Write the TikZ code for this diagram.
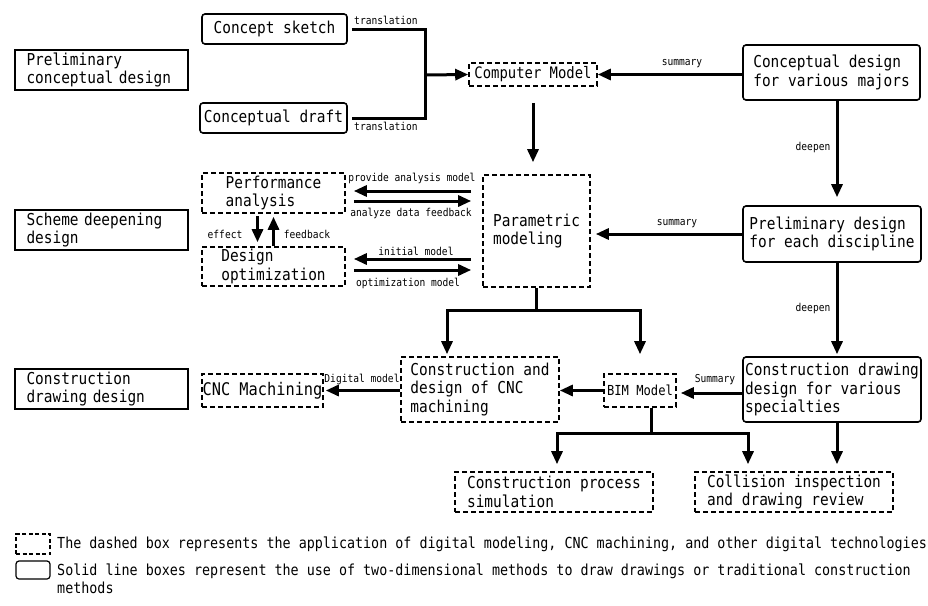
\documentclass[tikz,border=0pt]{standalone}
\usepackage{fontspec}
\setmainfont{DejaVu Sans Mono}[FakeStretch=0.88]
\usetikzlibrary{arrows.meta}

\tikzset{
  x=1pt, y=-1pt,
  every node/.style={inner sep=0pt},
  box/.style={draw, line width=1.6pt, align=left, font=\fontsize{16.4}{18.5}\selectfont},
  solidbox/.style={box, rounded corners=3pt},
  labbox/.style={box, line width=2pt, text width=150pt, inner xsep=11.5pt,
                 minimum width=173pt, minimum height=40pt},
  dashbox/.style={box, dash pattern=on 5pt off 3pt},
  arr/.style={line width=3pt, -{Triangle[length=13pt,width=11pt]}},
  link/.style={line width=3pt},
  tag/.style={font=\fontsize{10.9}{12}\selectfont},
}

\begin{document}
\begin{tikzpicture}
\fill[white] (0,0) rectangle (928,605);
\useasboundingbox (0,0) rectangle (928,605);

% stage labels on the left
\node[labbox] (lab1) at (101.5,70)  {Preliminary\\conceptual design};
\node[labbox] (lab2) at (101.5,230) {Scheme deepening\\design};
\node[labbox] (lab3) at (101.5,389) {Construction\\drawing design};

% first stage
\node[solidbox, minimum width=145pt, minimum height=30pt] (sketch) at (274.5,29) {Concept sketch};
\node[solidbox, minimum width=147pt, minimum height=30pt] (draft) at (273.5,118) {Conceptual draft};
\node[dashbox, minimum width=128pt, minimum height=23pt, font=\fontsize{15.8}{18}\selectfont] (cm) at (533,74.5) {Computer Model};
\node[solidbox, minimum width=177pt, minimum height=55pt] (cdm) at (831.5,72.5) {Conceptual design\\for various majors};

% second stage
\node[dashbox, minimum width=107pt, minimum height=112pt] (pm) at (536.5,231) {Parametric\\modeling};
\node[solidbox, minimum width=178pt, minimum height=56pt] (pdd) at (832,234) {Preliminary design\\for each discipline};
\node[dashbox, minimum width=143pt, minimum height=40pt] (pa) at (273.5,193) {Performance\\analysis};
\node[dashbox, minimum width=143pt, minimum height=39pt] (dopt) at (273.5,266.5) {Design\\optimization};

% third stage
\node[dashbox, minimum width=158pt, minimum height=65pt] (cdcnc) at (480,389.5) {Construction and\\design of CNC\\machining};
\node[dashbox, minimum width=72pt, minimum height=33pt, font=\fontsize{13.8}{16}\selectfont] (bim) at (640,390.5) {BIM Model};
\node[solidbox, minimum width=178pt, minimum height=65pt] (cdd) at (832,389.5) {Construction drawing\\design for various\\specialties};
\node[dashbox, minimum width=121pt, minimum height=33pt, font=\fontsize{17.4}{19}\selectfont] (cnc) at (262.5,390.5) {CNC Machining};
\node[dashbox, minimum width=198pt, minimum height=40pt] (cps) at (554,492) {Construction process\\simulation};
\node[dashbox, minimum width=198pt, minimum height=40pt] (col) at (794,492) {Collision inspection\\and drawing review};

% legend
\node[box, dash pattern=on 4pt off 2.5pt, line width=1.2pt, minimum width=34pt, minimum height=20pt] (ldash) at (33,544) {};
\node[solidbox, line width=1.2pt, minimum width=34pt, minimum height=18pt] (lsolid) at (33,570) {};
\node[anchor=west, font=\fontsize{15.2}{18}\selectfont] (tdash) at (57,544)
  {The dashed box represents the application of digital modeling, CNC machining, and other digital technologies};
\node[anchor=west, align=left, font=\fontsize{15.2}{18}\selectfont] (tsolid) at (57,579)
  {Solid line boxes represent the use of two-dimensional methods to draw drawings or traditional construction\\methods};

% connectors: first stage
\coordinate (jn) at (425,75);
\draw[link, shorten <=4pt, shorten >=4pt] (sketch.east) -| (jn) |- (draft.east);
\draw[arr] (jn) -- (cm.west);
\node[tag] (t1) at (386,20) {translation};
\node[tag] (t2) at (386,126) {translation};
\draw[arr] (cdm.west |- cm.east) -- (cm.east);
\node[tag] (t3) at (682,64) {summary};
\draw[arr, shorten <=16pt, shorten >=12pt] (cm.south) -- (cm.south |- pm.north);
\draw[arr, shorten >=8pt] ([xshift=5.5pt]cdm.south) -- ([xshift=5pt]pdd.north);
\node[tag] (t4) at (813,147) {deepen};

% connectors: second stage
\draw[arr, shorten >=5pt] (pdd.west) -- (pdd.west -| pm.east);
\node[tag] (t5) at (677,224) {summary};
\draw[arr, shorten <=11pt, shorten >=8pt] (pm.west |- 0,191) -- (pa.east |- 0,191);
\draw[arr, shorten <=8pt, shorten >=11pt] (pa.east |- 0,201) -- (pm.west |- 0,201);
\draw[arr, shorten <=11pt, shorten >=8pt] (pm.west |- 0,259) -- (dopt.east |- 0,259);
\draw[arr, shorten <=8pt, shorten >=11pt] (dopt.east |- 0,270) -- (pm.west |- 0,270);
\node[tag] (t6) at (412,178) {provide analysis model};
\node[tag] (t7) at (411,213) {analyze data feedback};
\node[tag] (t8) at (416,251) {initial model};
\node[tag] (t9) at (408,283) {optimization model};
\draw[arr, shorten <=2pt, shorten >=4pt] ([xshift=-16pt]pa.south) -- ([xshift=-16pt]dopt.north);
\draw[arr, shorten >=3pt] (dopt.north) -- (pa.south);
\node[tag] (t10) at (225,234) {effect};
\node[tag] (t11) at (307,234) {feedback};

% connectors: third stage
\coordinate (sp) at (536.5,310);
\draw[link] (pm.south) -- (sp);
\draw[arr, shorten >=2pt] (sp) -| ([xshift=-33pt]cdcnc.north);
\draw[arr, shorten >=19pt] (sp) -| (bim.north);
\draw[arr] (bim.west) -- (bim.west -| cdcnc.east);
\draw[arr, shorten >=2pt] (cdcnc.west |- cnc.east) -- (cnc.east);
\node[tag] (t12) at (362,379) {Digital model};
\draw[arr, shorten >=4pt] (cdd.west |- 0,393) -- (bim.east |- 0,393);
\node[tag] (t13) at (715,380) {Summary};
\draw[arr, shorten >=2pt] ([xshift=5pt]pdd.south) -- ([xshift=5pt]cdd.north);
\node[tag] (t14) at (813,308) {deepen};

\coordinate (sp2) at (651,433);
\draw[link] (bim.south -| sp2) -- (sp2);
\draw[arr, shorten >=7pt] (sp2) -| ([xshift=3pt]cps.north);
\draw[arr, shorten >=7pt] (sp2) -| ([xshift=-46pt]col.north);
\draw[arr, shorten >=7pt] ([xshift=5pt]cdd.south) -- ([xshift=43pt]col.north);
\end{tikzpicture}
\end{document}
